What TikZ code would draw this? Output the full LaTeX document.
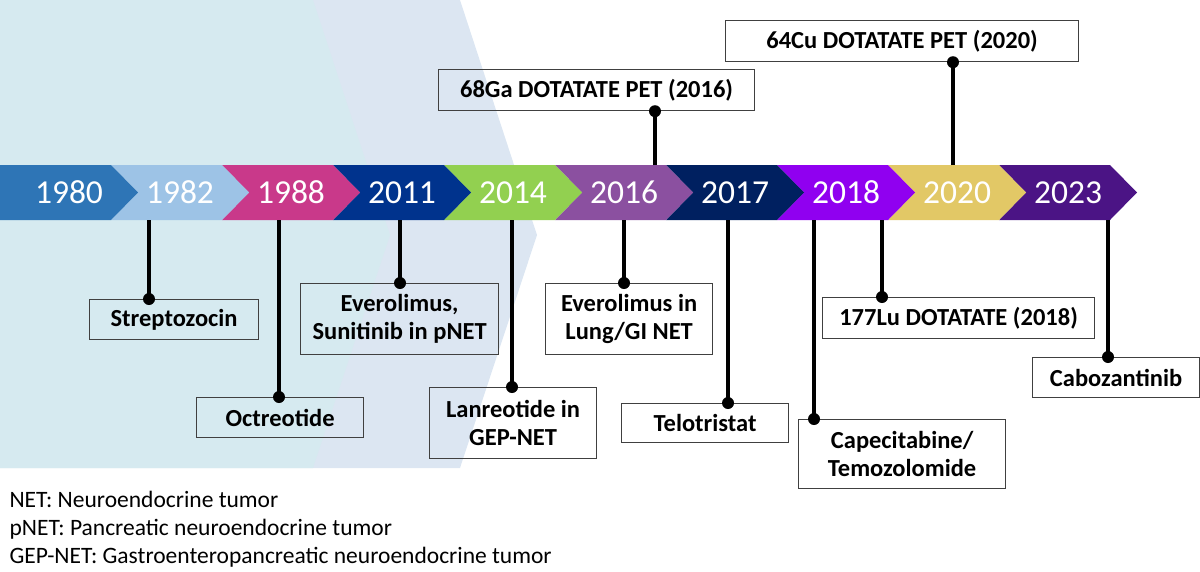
\documentclass[tikz,border=0pt]{standalone}
\usepackage{fontspec}
\setmainfont{Carlito}
\begin{document}
\begin{tikzpicture}[x=1pt,y=-1pt,
  box/.style={draw=black!75,line width=1.2pt,align=center,inner sep=0pt,anchor=north west,font=\fontsize{24.5}{28}\selectfont\bfseries},
  stem/.style={line width=3.5pt,black},
  dotc/.style={circle,fill=black,inner sep=0pt,minimum size=12pt},
  leg/.style={anchor=west,font=\fontsize{23.5}{23.5}\selectfont},
  yr/.style={text=white,font=\fontsize{33.5}{33.5}\selectfont}]
\useasboundingbox (0,0) rectangle (1200,571);
\fill[fill={rgb,255:red,220;green,230;blue,242}] (0,0)--(460,0)--(537,235)--(460,468)--(0,468)--cycle;
\fill[fill={rgb,255:red,214;green,234;blue,240}] (0,0)--(313,0)--(390,235)--(313,468)--(0,468)--cycle;
% chevrons
\definecolor{c0}{RGB}{46,117,182}
\definecolor{c1}{RGB}{157,195,230}
\definecolor{c2}{RGB}{201,57,138}
\definecolor{c3}{RGB}{0,51,141}
\definecolor{c4}{RGB}{146,208,80}
\definecolor{c5}{RGB}{139,80,160}
\definecolor{c6}{RGB}{0,32,96}
\definecolor{c7}{RGB}{144,0,240}
\definecolor{c8}{RGB}{226,200,102}
\definecolor{c9}{RGB}{75,20,133}
\foreach \i/\y in {9/2023,8/2020,7/2018,6/2017,5/2016,4/2014,3/2011,2/1988,1/1982,0/1980}{
  \pgfmathsetmacro{\s}{111*\i}
  \ifnum\i=0
    \fill[c\i] (\s,165)--(\s+111,165)--(\s+138,192.5)--(\s+111,220)--(\s,220)--cycle;
  \else
    \fill[c\i] (\s,165)--(\s+111,165)--(\s+138,192.5)--(\s+111,220)--(\s,220)--(\s+27,192.5)--cycle;
  \fi
  \node[yr] (y\y) at (\s+69,192.5) {\y};
}
% boxes
\node[box,minimum width=169pt,minimum height=40pt] (strep) at (89,299) {Streptozocin};
\node[box,minimum width=167pt,minimum height=40pt] (octr) at (196,397) {Octreotide};
\node[box,minimum width=198pt,minimum height=71pt] (ever) at (300,283) {Everolimus,\\Sunitinib in pNET};
\node[box,minimum width=167pt,minimum height=71pt] (lanr) at (429,387) {Lanreotide in\\GEP-NET};
\node[box,minimum width=167pt,minimum height=71pt] (lung) at (545,283) {Everolimus in\\Lung/GI NET};
\node[box,minimum width=167pt,minimum height=39pt] (telo) at (621,403) {Telotristat};
\node[box,minimum width=207pt,minimum height=69pt] (cape) at (798,419) {Capecitabine/\\Temozolomide};
\node[box,minimum width=272pt,minimum height=41pt] (lu) at (822,297) {177Lu DOTATATE (2018)};
\node[box,minimum width=167pt,minimum height=40pt] (cabo) at (1032,357) {Cabozantinib};
\node[box,minimum width=316pt,minimum height=41pt] (ga) at (438,69) {68Ga DOTATATE PET (2016)};
\node[box,minimum width=353pt,minimum height=41pt] (cu) at (725,20) {64Cu DOTATATE PET (2020)};
% stems
\foreach \n/\x/\e in {strep/149/220,octr/279/220,ever/400/220,lanr/512/220,lung/624/220,telo/728/220,cape/814/220,lu/882/220,cabo/1108/220}{
  \coordinate (p\n) at (\x,\e);
  \draw[stem] (p\n) -- (\n.north -| p\n);
  \node[dotc] at (\n.north -| p\n) {};
}
\foreach \n/\x in {ga/655,cu/953}{
  \coordinate (p\n) at (\x,165);
  \draw[stem] (p\n) -- (\n.south -| p\n);
  \node[dotc] at (\n.south -| p\n) {};
}
% legend
\node[leg] (l1) at (6,499) {NET: Neuroendocrine tumor};
\node[leg] (l2) at (6,529) {pNET: Pancreatic neuroendocrine tumor};
\node[leg] (l3) at (6,557) {GEP-NET: Gastroenteropancreatic neuroendocrine tumor};
\end{tikzpicture}
\end{document}
